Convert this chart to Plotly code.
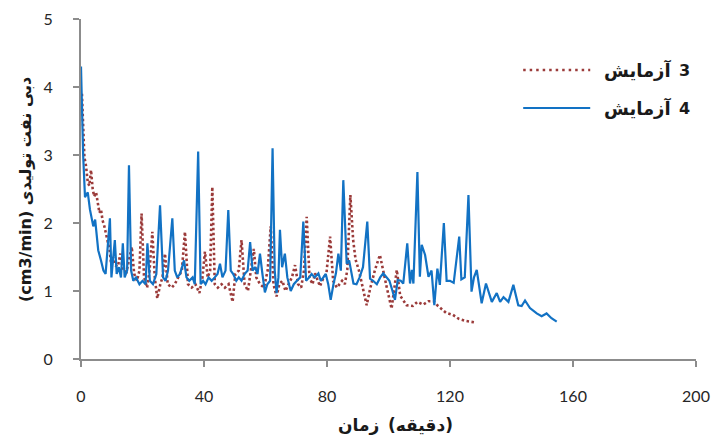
import plotly.graph_objects as go

# ---- data ----
test4_x = [0, 0.7, 1.3, 2.2, 2.9, 4.0, 4.6, 5.6, 6.5, 7.3, 8.0, 8.6, 9.4, 9.9, 10.4, 11.0, 11.6, 12.3, 13.0,
           13.6, 14.2, 15.0, 15.6, 16.3, 17.0, 17.9, 19.0, 20.0, 21.0, 21.6, 22.4, 23.4, 24.5, 25.7, 26.7,
           27.5, 28.3, 29.7, 30.5, 31.3, 32.2, 33.5, 34.3, 35.2, 36.3, 37.0, 38.1, 38.9, 39.7, 40.5, 41.5,
           42.5, 43.5, 44.4, 45.2, 46.0, 47.0, 47.9, 48.7, 49.5, 50.5, 51.3, 52.2, 53.2, 54.2, 55.0, 55.8,
           56.6, 57.4, 58.2, 59.0, 59.8, 60.6, 61.5, 62.3, 63.0, 63.6, 64.2, 64.7, 65.4, 66.3, 67.1, 68.2,
           69.2, 70.2, 71.3, 72.3, 73.2, 74.2, 75.0, 76.0, 77.2, 78.0, 78.8, 79.6, 80.4, 81.2, 82.1, 82.9,
           83.7, 84.5, 85.3, 86.4, 87.2, 88.0, 88.6, 89.6, 90.6, 91.7, 93.1, 94.0, 95.0, 96.2, 97.3, 98.3,
           99.3, 100.3, 101.3, 102.1, 103.0, 104.0, 104.8, 106.1, 107.0, 107.6, 108.1, 109.4, 110.2, 110.8,
           111.9, 113.0, 114.0, 114.9, 115.9, 116.7, 118.0, 118.9, 120.0, 121.2, 123.0, 123.7, 124.8, 126.0,
           127.0, 127.8, 128.7, 130.3, 131.7, 133.6, 135.2, 136.3, 137.4, 139.0, 140.6, 142.2, 143.3, 144.4,
           146.0, 148.2, 149.8, 151.4, 153.0, 154.7]
test4_y = [4.30, 3.0, 2.38, 2.45, 2.2, 1.95, 2.05, 1.6, 1.45, 1.3, 1.25, 1.6, 2.07, 1.2, 1.5, 1.75, 1.25, 1.35, 1.2,
           1.7, 1.2, 1.3, 2.85, 1.3, 1.15, 1.2, 1.1, 1.15, 1.1, 1.7, 1.15, 1.1, 1.25, 2.26, 1.2,
           1.15, 1.3, 2.07, 1.3, 1.2, 1.25, 1.45, 1.2, 1.15, 1.2, 1.1, 3.05, 1.1, 1.15, 1.1, 1.2,
           1.15, 1.2, 1.25, 1.4, 1.2, 1.3, 2.19, 1.3, 1.25, 1.15, 1.2, 1.15, 1.25, 1.3, 1.72, 1.3,
           1.35, 1.25, 1.55, 1.25, 0.98, 1.1, 1.15, 3.1, 1.3, 0.97, 1.2, 1.9, 1.35, 1.55, 1.2, 1.0,
           1.1, 1.15, 1.2, 2.02, 1.15, 1.2, 1.25, 1.2, 1.26, 1.15, 1.2, 1.25, 1.1, 0.87, 1.1, 1.26,
           1.55, 1.3, 2.63, 1.4, 1.45, 1.25, 1.11, 1.1, 1.2, 1.35, 2.02, 1.18, 1.15, 1.1, 1.2, 1.26,
           1.2, 1.15, 1.0, 0.87, 1.16, 1.15, 1.11, 1.7, 1.11, 1.31, 1.11, 2.75, 1.21, 1.68,
           1.53, 1.21, 1.3, 0.79, 1.33, 1.09, 2.0, 1.15, 1.15, 1.12, 1.8, 1.17, 1.2, 2.41,
           0.99, 1.2, 1.31, 0.82, 1.11, 0.84, 0.97, 0.84, 0.91, 0.84, 1.09, 0.79, 0.78, 0.86,
           0.75, 0.67, 0.63, 0.67, 0.6, 0.55]

test3_x = [0.3, 0.75, 1.1, 1.6, 2.2, 2.7, 3.25, 3.8, 4.3, 4.9, 5.4, 6.0, 6.5, 7.0, 7.6, 8.1, 8.7, 9.3, 9.8,
           10.4, 11.0, 12.0, 12.8, 13.6, 14.8, 15.6, 16.5, 17.3, 18.2, 19.0, 19.7, 20.5, 21.5, 22.3, 23.2,
           24.0, 24.8, 25.8, 26.5, 27.3, 28.2, 29.5, 30.5, 31.6, 32.8, 33.8, 34.8, 36.0, 37.2, 38.5, 39.5,
           40.3, 41.2, 42.0, 42.7, 43.5, 44.5, 45.7, 46.8, 48.0, 49.3, 50.2, 51.3, 52.2, 53.2, 54.3, 55.2,
           56.2, 57.0, 58.2, 59.5, 60.7, 61.7, 62.6, 63.6, 64.5, 65.5, 66.5, 67.5, 68.6, 69.6, 70.6, 71.6,
           72.5, 73.4, 74.3, 75.3, 76.1, 77.7, 78.9, 79.8, 81.0, 82.0, 83.2, 84.9, 85.8, 86.6, 87.6, 88.5,
           89.3, 90.4, 91.8, 92.9, 94.0, 95.6, 97.2, 98.2, 99.4, 101.0, 102.7, 103.8, 105.9, 107.9, 109.4,
           111.3, 113.0, 114.6, 116.1, 118.7, 120.9, 122.9, 125.2, 127.8]
test3_y = [3.9, 3.42, 2.97, 2.85, 2.6, 2.55, 2.78, 2.5, 2.39, 2.45, 2.29, 2.15, 2.2, 2.04, 1.95, 1.85, 1.77, 1.6, 1.4,
           1.5, 1.38, 1.36, 1.55, 1.3, 1.28, 1.45, 1.65, 1.25, 1.15, 1.3, 2.14, 1.2, 1.05, 1.3, 1.87,
           1.2, 0.89, 1.1, 1.2, 1.55, 1.1, 1.05, 1.1, 1.2, 1.3, 1.87, 1.1, 1.05, 1.1, 0.97, 1.2,
           1.58, 1.2, 1.3, 2.53, 1.1, 1.05, 1.1, 1.05, 1.1, 0.84, 1.25, 1.3, 1.75, 1.1, 1.0, 1.3,
           1.62, 1.2, 1.1, 1.05, 1.3, 1.95, 1.1, 0.92, 1.1, 1.15, 1.0, 1.1, 1.2, 1.38, 1.1, 1.05,
           1.3, 2.09, 1.2, 1.1, 1.26, 1.07, 1.2, 1.25, 1.8, 1.15, 1.05, 1.15, 1.1, 1.31, 2.41, 1.75,
           1.46, 1.3, 1.01, 0.79, 1.03, 1.31, 1.53, 1.3, 1.06, 0.74, 1.31, 0.93, 0.79, 0.78, 0.84,
           0.8, 0.85, 0.85, 0.78, 0.68, 0.65, 0.59, 0.56, 0.54]

x_ticks = [0, 40, 80, 120, 160, 200]
y_ticks = [0, 1, 2, 3, 4, 5]
legend_word = "آزمایش"
legend_nums = ["3", "4"]
x_title_word = "زمان"
x_title_unit = "(دقیقه)"
y_title = "(cm3/min) دبی نفت تولیدی"

RED = "#9B3B3A"
BLUE = "#1272C4"
AXIS = "#8C8C8C"
TXT = "#1a1a1a"
FONT = "Lato, DejaVu Sans, sans-serif"
BOLD_FONT = "DejaVu Sans, sans-serif"

fig = go.Figure()
fig.add_trace(go.Scatter(x=test3_x, y=test3_y, mode="lines", name=legend_word + " " + legend_nums[0],
                         line=dict(color=RED, width=2.6, dash="2.5px,2.5px"), showlegend=False))
fig.add_trace(go.Scatter(x=test4_x, y=test4_y, mode="lines", name=legend_word + " " + legend_nums[1],
                         line=dict(color=BLUE, width=2.2), showlegend=False))

# legend drawn manually (long sample lines like the reference)
leg = [(legend_nums[0], RED, "dot", 0.85), (legend_nums[1], BLUE, "solid", 0.738)]
for num, col, dsh, yy in leg:
    fig.add_shape(type="line", xref="paper", yref="paper", x0=0.719, x1=0.828, y0=yy, y1=yy,
                  line=dict(color=col, width=2.6 if dsh == "dot" else 2,
                            dash="2.5px,4px" if dsh == "dot" else "solid"))
    fig.add_annotation(xref="paper", yref="paper", x=0.9626, y=yy, xanchor="right", yanchor="middle",
                       text="<b>" + legend_word + "</b>", showarrow=False,
                       font=dict(family=BOLD_FONT, size=18, color=TXT))
    fig.add_annotation(xref="paper", yref="paper", x=0.9690, y=yy, xanchor="left", yanchor="middle",
                       text="<b>" + num + "</b>", showarrow=False,
                       font=dict(family=BOLD_FONT, size=16, color=TXT))

# axis titles as annotations for exact placement
fig.add_annotation(xref="paper", yref="paper", x=0.488, y=-0.194, xanchor="right", yanchor="middle",
                   text="<b>" + x_title_word + "</b>", showarrow=False,
                   font=dict(family=BOLD_FONT, size=17, color=TXT))
fig.add_annotation(xref="paper", yref="paper", x=0.496, y=-0.194, xanchor="left", yanchor="middle",
                   text="<b>" + x_title_unit + "</b>", showarrow=False,
                   font=dict(family=BOLD_FONT, size=17, color=TXT))
fig.add_annotation(xref="paper", yref="paper", x=-0.091, y=0.497, xanchor="center", yanchor="middle",
                   text="<b>" + y_title + "</b>", showarrow=False, textangle=-90,
                   font=dict(family=BOLD_FONT, size=16, color=TXT))

fig.update_layout(
    width=705, height=427,
    margin=dict(l=73, r=17, t=11, b=76),
    paper_bgcolor="white", plot_bgcolor="white",
    font=dict(family=FONT, size=16, color="#262626"),
    xaxis=dict(range=[0, 200], tickvals=x_ticks, ticks="outside", ticklen=6, tickwidth=1.5,
               tickcolor=AXIS, showline=True, linecolor=AXIS, linewidth=2, showgrid=False,
               zeroline=False, ticklabelstandoff=16, automargin=False),
    yaxis=dict(range=[0, 5], tickvals=y_ticks, ticks="outside", ticklen=6, tickwidth=1.5,
               tickcolor=AXIS, showline=True, linecolor=AXIS, linewidth=2, showgrid=False,
               zeroline=False, ticklabelstandoff=17, automargin=False),
)

fig.write_html("out.html")
